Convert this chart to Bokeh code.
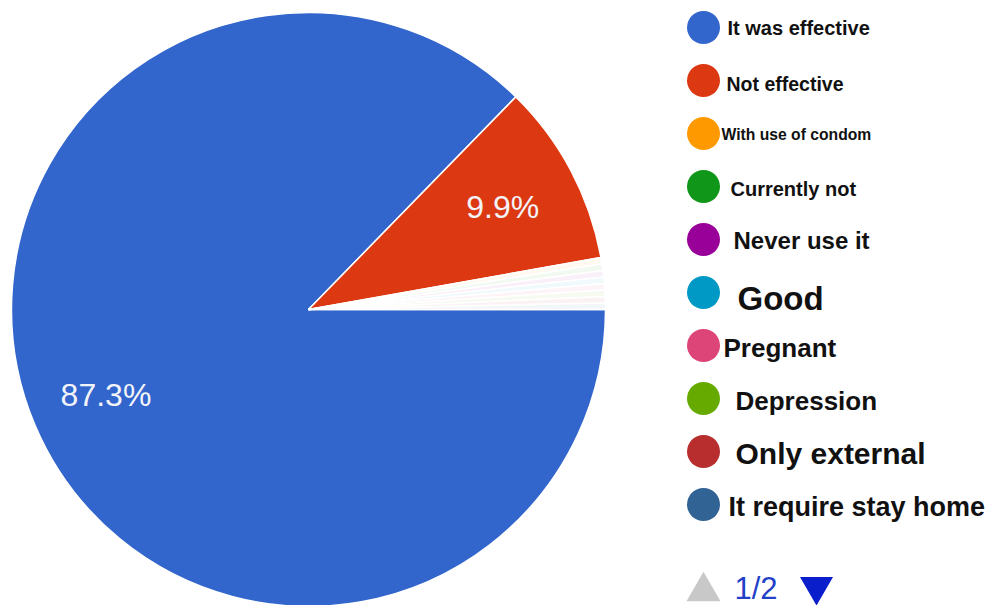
import math
from bokeh.plotting import figure
from bokeh.models import Range1d, ColumnDataSource
from bokeh.core.properties import value
from bokeh.embed import file_html
from bokeh.resources import INLINE

# ---- data ----
categories = ["It was effective", "Not effective", "With use of condom", "Currently not",
              "Never use it", "Good", "Pregnant", "Depression", "Only external",
              "It require stay home"]
percents = [87.3, 9.9, 0.35, 0.35, 0.35, 0.35, 0.35, 0.35, 0.35, 0.35]
colors = ["#3366CC", "#DC3912", "#FF9900", "#109618", "#990099", "#0099C6",
          "#DD4477", "#66AA00", "#B82E2E", "#316395"]
page_text = "1/2"

# ---- styles ----
label_sizes = ["20px", "19.5px", "15.7px", "20px", "24px", "33px", "26px", "26px", "30px", "27px"]
label_dx = [0, -1, -6, 3, 6, 10, -4, 8, 8, 1]
label_dy = [0, -3, -1, -2, -1, -6, -2, -2, -2, -2]

W, H = 988, 605
p = figure(width=W, height=H, output_backend="svg", toolbar_location=None,
           x_range=Range1d(0, W), y_range=Range1d(0, H), min_border=0)
p.axis.visible = False
p.grid.visible = False
p.outline_line_color = None
p.background_fill_color = "white"
p.border_fill_color = "white"

cx, cy, R = 308, H - 309, 297
total = sum(percents)
starts, ends, mids = [], [], []
acc = 0.0
for v in percents:
    a0 = -acc / total * 2 * math.pi
    acc += v
    a1 = -acc / total * 2 * math.pi
    starts.append(a0)
    ends.append(a1)
    mids.append((a0 + a1) / 2)

alphas = [1.0, 1.0] + [0.06] * (len(percents) - 2)
src = ColumnDataSource(dict(x=[cx] * len(percents), y=[cy] * len(percents),
                            s=starts, e=ends, c=colors, a=alphas))
p.wedge(x="x", y="y", radius=R, start_angle="s", end_angle="e", direction="clock",
        fill_color="c", fill_alpha="a", line_color="white", line_width=1.5, source=src)

# percentage labels on large slices
lab_r = 0.74 * R
lx = [cx + lab_r * math.cos(mids[i]) for i in range(2)]
ly = [cy + lab_r * math.sin(mids[i]) for i in range(2)]
lt = [f"{percents[i]:.1f}%" for i in range(2)]
p.text(x=lx, y=ly, text=lt, text_color="#F2F4FA", text_font=value("Liberation Sans"),
       text_font_size="32px", text_align="center", text_baseline="middle")

# legend
leg_x, leg_top, step = 703, H - 27, 53
ys = [leg_top - i * step for i in range(len(categories))]
p.scatter(x=[leg_x] * len(categories), y=ys, size=33, marker="circle",
          fill_color=colors, line_color=None)
for i, name in enumerate(categories):
    p.text(x=[leg_x + 24 + label_dx[i]], y=[ys[i] + label_dy[i]], text=[name], text_color="#111111",
           text_font=value("Liberation Sans"), text_font_style="bold",
           text_font_size=label_sizes[i], text_baseline="middle", text_align="left")

# pagination
pg_y = H - 588
p.scatter(x=[leg_x], y=[pg_y - 3], marker="triangle", size=34, fill_color="#C8C8C8", line_color=None)
p.text(x=[leg_x + 31], y=[pg_y], text=[page_text], text_color="#2340C8",
       text_font=value("Liberation Sans"), text_font_size="31px", text_baseline="middle")
p.scatter(x=[leg_x + 113], y=[pg_y + 2], marker="inverted_triangle", size=33,
          fill_color="#0A1ECC", line_color=None)

open("out.html", "w").write(file_html(p, INLINE))
